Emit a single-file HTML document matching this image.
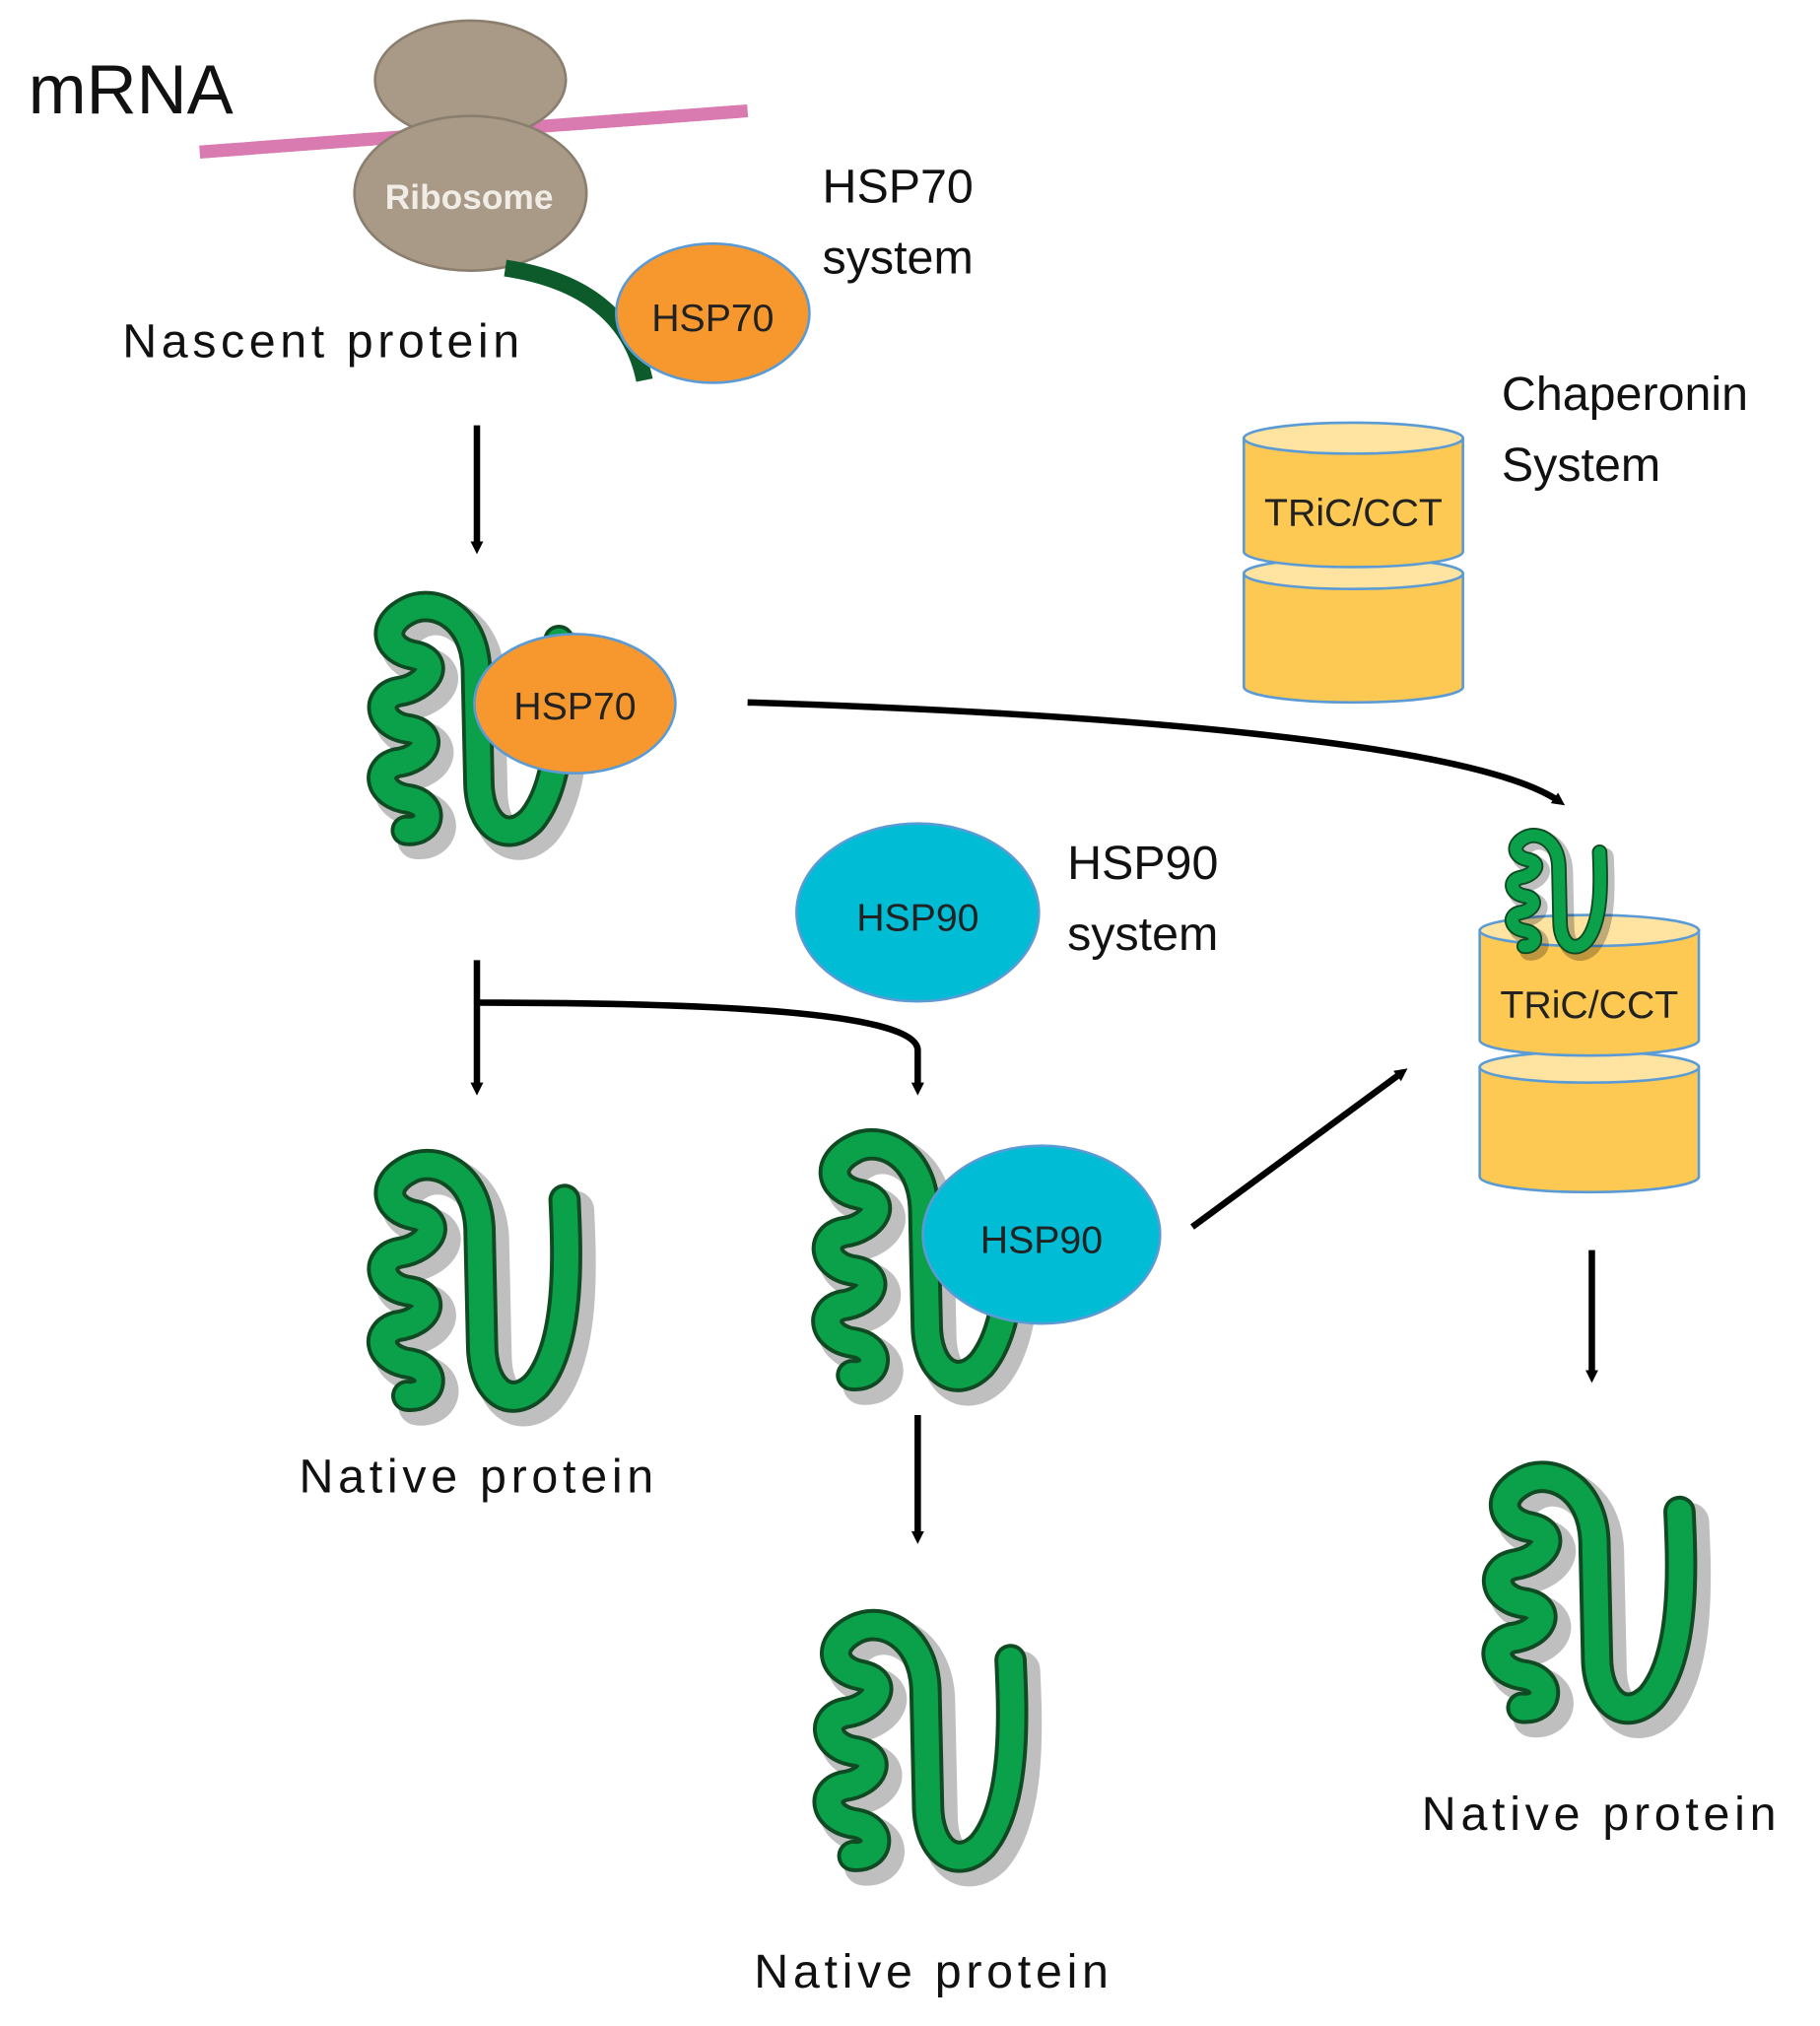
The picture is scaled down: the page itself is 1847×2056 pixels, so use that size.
<!DOCTYPE html>
<html><head><meta charset="utf-8"><style>html,body{margin:0;padding:0;background:#fff}svg{display:block}</style></head>
<body>
<svg width="1847" height="2056" viewBox="0 0 1412 1572" preserveAspectRatio="none" xmlns="http://www.w3.org/2000/svg" font-family="'Liberation Sans', sans-serif">
<defs>
<g id="prot">
<path d="M148,38 C150,80 153,150 126,182 C106,202 84,186 84,150 L82,60 C80,18 48,4 28,14 C4,26 10,46 32,50 C56,55 42,76 20,79 C0,83 4,106 28,109 C50,113 42,133 18,136 C0,141 4,162 28,165 C50,169 46,192 26,190" fill="none" stroke="#000" stroke-opacity=".25" stroke-width="30" stroke-linecap="round" transform="translate(8,8)"/>
<path d="M148,38 C150,80 153,150 126,182 C106,202 84,186 84,150 L82,60 C80,18 48,4 28,14 C4,26 10,46 32,50 C56,55 42,76 20,79 C0,83 4,106 28,109 C50,113 42,133 18,136 C0,141 4,162 28,165 C50,169 46,192 26,190" fill="none" stroke="#0f4a22" stroke-width="25" stroke-linecap="round"/>
<path d="M148,38 C150,80 153,150 126,182 C106,202 84,186 84,150 L82,60 C80,18 48,4 28,14 C4,26 10,46 32,50 C56,55 42,76 20,79 C0,83 4,106 28,109 C50,113 42,133 18,136 C0,141 4,162 28,165 C50,169 46,192 26,190" fill="none" stroke="#0ba04a" stroke-width="19" stroke-linecap="round"/>
</g>
<marker id="ah" markerWidth="10" markerHeight="10" refX="5" refY="5" orient="auto" markerUnits="userSpaceOnUse" viewBox="0 0 10 10"><path d="M0,0 L10,5 L0,10 z" fill="#000"/></marker>
</defs>
<rect width="1412" height="1572" fill="#fff"/>
<!-- mRNA / ribosome -->
<line x1="155" y1="118" x2="580" y2="86" stroke="#d97bb0" stroke-width="10"/>
<ellipse cx="365" cy="62" rx="74" ry="46" fill="#a89a86" stroke="#8a7e6e" stroke-width="2"/>
<ellipse cx="365" cy="150" rx="90" ry="60" fill="#a89a86" stroke="#8a7e6e" stroke-width="2"/>
<line x1="155" y1="118" x2="580" y2="86" stroke="#d97bb0" stroke-width="10" stroke-dasharray="135 150" />
<text x="364" y="162" font-size="27" font-weight="bold" fill="#f0ece6" text-anchor="middle">Ribosome</text>
<path d="M392,208 Q485,222 500,295" fill="none" stroke="#0d5a2a" stroke-width="13"/>
<ellipse cx="553" cy="243" rx="75" ry="54" fill="#f7982f" stroke="#5b9bd5" stroke-width="2"/>
<text x="553" y="257" font-size="30" text-anchor="middle" fill="#222">HSP70</text>
<text x="22" y="88" font-size="54" fill="#111">mRNA</text>
<text x="95" y="277" font-size="37" fill="#111" textLength="308">Nascent protein</text>
<text x="638" y="157" font-size="37" fill="#111">HSP70</text>
<text x="638" y="212" font-size="37" fill="#111">system</text>
<text x="1165" y="318" font-size="37" fill="#111">Chaperonin</text>
<text x="1165" y="373" font-size="37" fill="#111">System</text>
<text x="828" y="682" font-size="37" fill="#111">HSP90</text>
<text x="828" y="737" font-size="37" fill="#111">system</text>
<!-- chaperonin top -->
<g stroke="#5b9bd5" stroke-width="2">
<path d="M965,445 v88 a85,12 0 0 0 170,0 v-88 z" fill="#fec953"/>
<ellipse cx="1050" cy="445" rx="85" ry="12" fill="#ffe3a0"/>
<path d="M965,340 v88 a85,12 0 0 0 170,0 v-88 z" fill="#fec953"/>
<ellipse cx="1050" cy="340" rx="85" ry="12" fill="#ffe3a0"/>
</g>
<text x="1050" y="408" font-size="30" text-anchor="middle" fill="#222">TRiC/CCT</text>
<!-- chaperonin right -->
<g stroke="#5b9bd5" stroke-width="2">
<path d="M1148,828 v85 a85,12 0 0 0 170,0 v-85 z" fill="#fec953"/>
<ellipse cx="1233" cy="828" rx="85" ry="12" fill="#ffe3a0"/>
<path d="M1148,722 v85 a85,12 0 0 0 170,0 v-85 z" fill="#fec953"/>
<ellipse cx="1233" cy="722" rx="85" ry="12" fill="#ffe3a0"/>
</g>
<use href="#prot" transform="translate(1170,643) scale(0.48)"/>
<text x="1233" y="790" font-size="30" text-anchor="middle" fill="#222">TRiC/CCT</text>
<!-- proteins -->
<use href="#prot" transform="translate(290,460) scale(0.97)"/>
<ellipse cx="446" cy="546" rx="78" ry="54" fill="#f7982f" stroke="#5b9bd5" stroke-width="2"/>
<text x="446" y="558" font-size="30" text-anchor="middle" fill="#222">HSP70</text>
<ellipse cx="712" cy="708" rx="94" ry="69" fill="#00bcd4" stroke="#5b9bd5" stroke-width="2"/>
<text x="712" y="722" font-size="30" text-anchor="middle" fill="#222">HSP90</text>
<use href="#prot" transform="translate(290,893)"/>
<use href="#prot" transform="translate(635,877)"/>
<ellipse cx="808" cy="958" rx="92" ry="69" fill="#00bcd4" stroke="#5b9bd5" stroke-width="2"/>
<text x="808" y="972" font-size="30" text-anchor="middle" fill="#222">HSP90</text>
<use href="#prot" transform="translate(636,1250)"/>
<use href="#prot" transform="translate(1155,1135)"/>
<!-- arrows -->
<g stroke="#000" stroke-width="5" fill="none">
<line x1="370" y1="330" x2="370" y2="425" marker-end="url(#ah)"/>
<path d="M580,545 C900,555 1150,580 1210,622" marker-end="url(#ah)"/>
<line x1="370" y1="745" x2="370" y2="845" marker-end="url(#ah)"/>
<path d="M370,778 C550,778 712,785 712,815 L712,845" marker-end="url(#ah)"/>
<line x1="925" y1="952" x2="1088" y2="832" marker-end="url(#ah)"/>
<line x1="712" y1="1098" x2="712" y2="1193" marker-end="url(#ah)"/>
<line x1="1235" y1="970" x2="1235" y2="1068" marker-end="url(#ah)"/>
</g>
<text x="232" y="1158" font-size="37" fill="#111" textLength="275">Native protein</text>
<text x="585" y="1542" font-size="37" fill="#111" textLength="275">Native protein</text>
<text x="1103" y="1420" font-size="37" fill="#111" textLength="275">Native protein</text>
</svg>
</body></html>
